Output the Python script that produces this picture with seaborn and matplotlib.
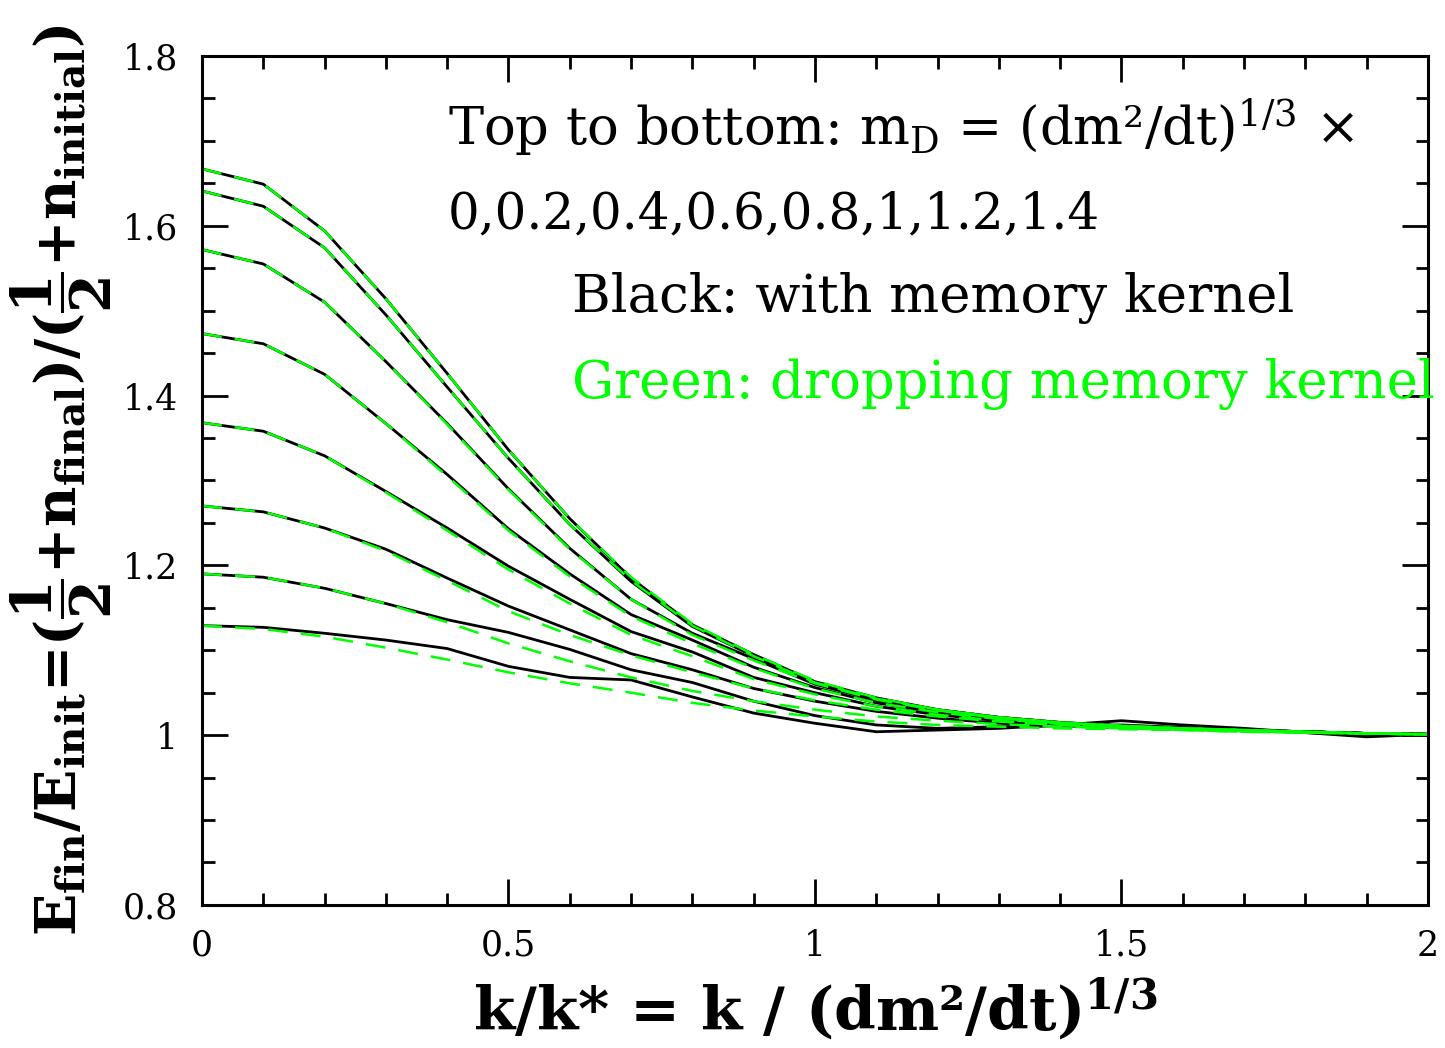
import numpy as np
import pandas as pd
import matplotlib
matplotlib.use('Agg')
import matplotlib.pyplot as plt
import seaborn as sns
from matplotlib.ticker import MultipleLocator, FuncFormatter

# k / k* grid
k_grid = [0.0, 0.1, 0.2, 0.3, 0.4, 0.5, 0.6, 0.7, 0.8, 0.9, 1.0,
          1.1, 1.2, 1.3, 1.4, 1.5, 1.6, 1.7, 1.8, 1.9, 2.0]

# m_D in units of (dm^2/dt)^(1/3), top to bottom
m_D = [0.0, 0.2, 0.4, 0.6, 0.8, 1.0, 1.2, 1.4]

# Black: with memory kernel
mem_00 = [1.667, 1.649, 1.594, 1.514, 1.426, 1.336, 1.255, 1.185, 1.130, 1.095, 1.063,
          1.044, 1.030, 1.021, 1.015, 1.011, 1.008, 1.006, 1.004, 1.002, 1.001]
mem_02 = [1.641, 1.623, 1.574, 1.495, 1.410, 1.326, 1.248, 1.181, 1.128, 1.093, 1.062,
          1.043, 1.030, 1.021, 1.015, 1.011, 1.008, 1.006, 1.004, 1.002, 1.001]
mem_04 = [1.572, 1.555, 1.510, 1.440, 1.367, 1.290, 1.220, 1.160, 1.120, 1.090, 1.060,
          1.041, 1.029, 1.020, 1.014, 1.011, 1.008, 1.006, 1.004, 1.002, 1.001]
mem_06 = [1.473, 1.461, 1.425, 1.367, 1.307, 1.243, 1.190, 1.142, 1.112, 1.080, 1.056,
          1.038, 1.027, 1.019, 1.013, 1.010, 1.008, 1.006, 1.004, 1.002, 1.001]
mem_08 = [1.368, 1.358, 1.329, 1.287, 1.244, 1.199, 1.160, 1.122, 1.098, 1.068, 1.050,
          1.034, 1.024, 1.017, 1.012, 1.010, 1.008, 1.006, 1.004, 1.002, 1.001]
mem_10 = [1.270, 1.263, 1.244, 1.219, 1.185, 1.152, 1.124, 1.096, 1.077, 1.055, 1.040,
          1.028, 1.020, 1.014, 1.011, 1.009, 1.007, 1.005, 1.004, 1.002, 1.001]
mem_12 = [1.190, 1.186, 1.173, 1.155, 1.136, 1.121, 1.101, 1.077, 1.062, 1.040, 1.023,
          1.012, 1.008, 1.010, 1.011, 1.012, 1.009, 1.006, 1.003, 1.001, 1.000]
mem_14 = [1.129, 1.127, 1.120, 1.112, 1.102, 1.081, 1.068, 1.065, 1.045, 1.026, 1.014,
          1.004, 1.006, 1.008, 1.012, 1.017, 1.012, 1.008, 1.003, 0.998, 1.001]

# Green: dropping memory kernel
nomem_00 = [1.667, 1.649, 1.594, 1.514, 1.426, 1.336, 1.255, 1.186, 1.131, 1.095, 1.064,
            1.044, 1.030, 1.021, 1.015, 1.011, 1.008, 1.006, 1.004, 1.002, 1.001]
nomem_02 = [1.641, 1.623, 1.574, 1.495, 1.410, 1.326, 1.248, 1.182, 1.129, 1.093, 1.062,
            1.043, 1.030, 1.021, 1.015, 1.011, 1.008, 1.006, 1.004, 1.002, 1.001]
nomem_04 = [1.572, 1.555, 1.510, 1.440, 1.366, 1.289, 1.219, 1.160, 1.118, 1.088, 1.061,
            1.042, 1.029, 1.020, 1.014, 1.011, 1.008, 1.006, 1.004, 1.002, 1.001]
nomem_06 = [1.473, 1.461, 1.425, 1.367, 1.305, 1.241, 1.187, 1.140, 1.108, 1.079, 1.055,
            1.038, 1.027, 1.019, 1.013, 1.010, 1.008, 1.006, 1.004, 1.002, 1.001]
nomem_08 = [1.368, 1.358, 1.329, 1.286, 1.241, 1.195, 1.155, 1.118, 1.093, 1.066, 1.048,
            1.034, 1.024, 1.017, 1.012, 1.009, 1.007, 1.005, 1.003, 1.002, 1.001]
nomem_10 = [1.270, 1.263, 1.244, 1.217, 1.182, 1.146, 1.118, 1.094, 1.074, 1.055, 1.041,
            1.030, 1.022, 1.016, 1.012, 1.009, 1.007, 1.005, 1.003, 1.002, 1.001]
nomem_12 = [1.190, 1.186, 1.173, 1.155, 1.133, 1.108, 1.087, 1.068, 1.052, 1.040, 1.030,
            1.022, 1.017, 1.013, 1.010, 1.008, 1.006, 1.004, 1.003, 1.002, 1.001]
nomem_14 = [1.129, 1.125, 1.116, 1.103, 1.089, 1.074, 1.061, 1.050, 1.038, 1.029, 1.022,
            1.016, 1.012, 1.010, 1.008, 1.007, 1.006, 1.004, 1.003, 1.002, 1.001]

with_memory = [mem_00, mem_02, mem_04, mem_06, mem_08, mem_10, mem_12, mem_14]
without_memory = [nomem_00, nomem_02, nomem_04, nomem_06, nomem_08, nomem_10, nomem_12, nomem_14]


def to_long(curves):
    rows = []
    for m, vals in zip(m_D, curves):
        for k, v in zip(k_grid, vals):
            rows.append({'m_D': m, 'k': k, 'ratio': v})
    return pd.DataFrame(rows)


df_mem = to_long(with_memory)
df_nomem = to_long(without_memory)

sns.set_theme(style='ticks')
plt.rcParams['font.family'] = ['DejaVu Serif']
plt.rcParams['mathtext.fontset'] = 'dejavuserif'
plt.rcParams['mathtext.default'] = 'regular'
plt.rcParams['text.color'] = 'black'
plt.rcParams['axes.labelcolor'] = 'black'

fig = plt.figure(figsize=(14.45, 10.48), dpi=100)
ax = fig.add_axes([0.1398, 0.1365, 0.8484, 0.8101])

sns.lineplot(data=df_mem, x='k', y='ratio', units='m_D', estimator=None,
             color='black', lw=2.0, sort=False, ax=ax)
sns.lineplot(data=df_nomem, x='k', y='ratio', units='m_D', estimator=None,
             color='#00ff00', lw=1.8, linestyle=(0, (8, 5.2)), sort=False, ax=ax)

ax.set_xlim(0, 2)
ax.set_ylim(0.8, 1.8)
ax.xaxis.set_major_locator(MultipleLocator(0.5))
ax.xaxis.set_minor_locator(MultipleLocator(0.1))
ax.yaxis.set_major_locator(MultipleLocator(0.2))
ax.yaxis.set_minor_locator(MultipleLocator(0.05))
fmt = FuncFormatter(lambda v, p: '{:g}'.format(round(v, 3)))
ax.xaxis.set_major_formatter(fmt)
ax.yaxis.set_major_formatter(fmt)

ax.tick_params(which='both', direction='in', top=True, right=True, width=2.0,
               color='black', labelsize=25, labelcolor='black')
ax.tick_params(which='major', length=19)
ax.tick_params(which='minor', length=9)
ax.tick_params(axis='x', which='major', pad=17)
ax.tick_params(axis='y', which='major', pad=17)
for sp in ax.spines.values():
    sp.set_linewidth(2.2)
    sp.set_color('black')

ax.set_xlabel('k/k* = k / (dm²/dt)$^{1/3}$', fontsize=43, fontweight='bold')
ax.xaxis.set_label_coords(0.5, -0.083)
ax.set_ylabel(r'E$_{fin}$/E$_{init}$=($\dfrac{1}{2}$+n$_{final}$)/($\dfrac{1}{2}$+n$_{initial}$)',
              fontsize=40, fontweight='bold')
ax.yaxis.set_label_coords(-0.072, 0.5)

txt_size = 38
ax.text(0.401, 1.695, 'Top to bottom: m$_D$ = (dm²/dt)$^{1/3}$ ×', fontsize=txt_size,
        color='black', ha='left', va='baseline', clip_on=False)
ax.text(0.401, 1.597, '0,0.2,0.4,0.6,0.8,1,1.2,1.4', fontsize=txt_size - 2,
        color='black', ha='left', va='baseline', clip_on=False)
ax.text(0.604, 1.498, 'Black: with memory kernel', fontsize=txt_size,
        color='black', ha='left', va='baseline', clip_on=False)
ax.text(0.604, 1.397, 'Green: dropping memory kernel', fontsize=txt_size,
        color='#00ff00', ha='left', va='baseline', clip_on=False)

fig.savefig('out.png', dpi=100)
